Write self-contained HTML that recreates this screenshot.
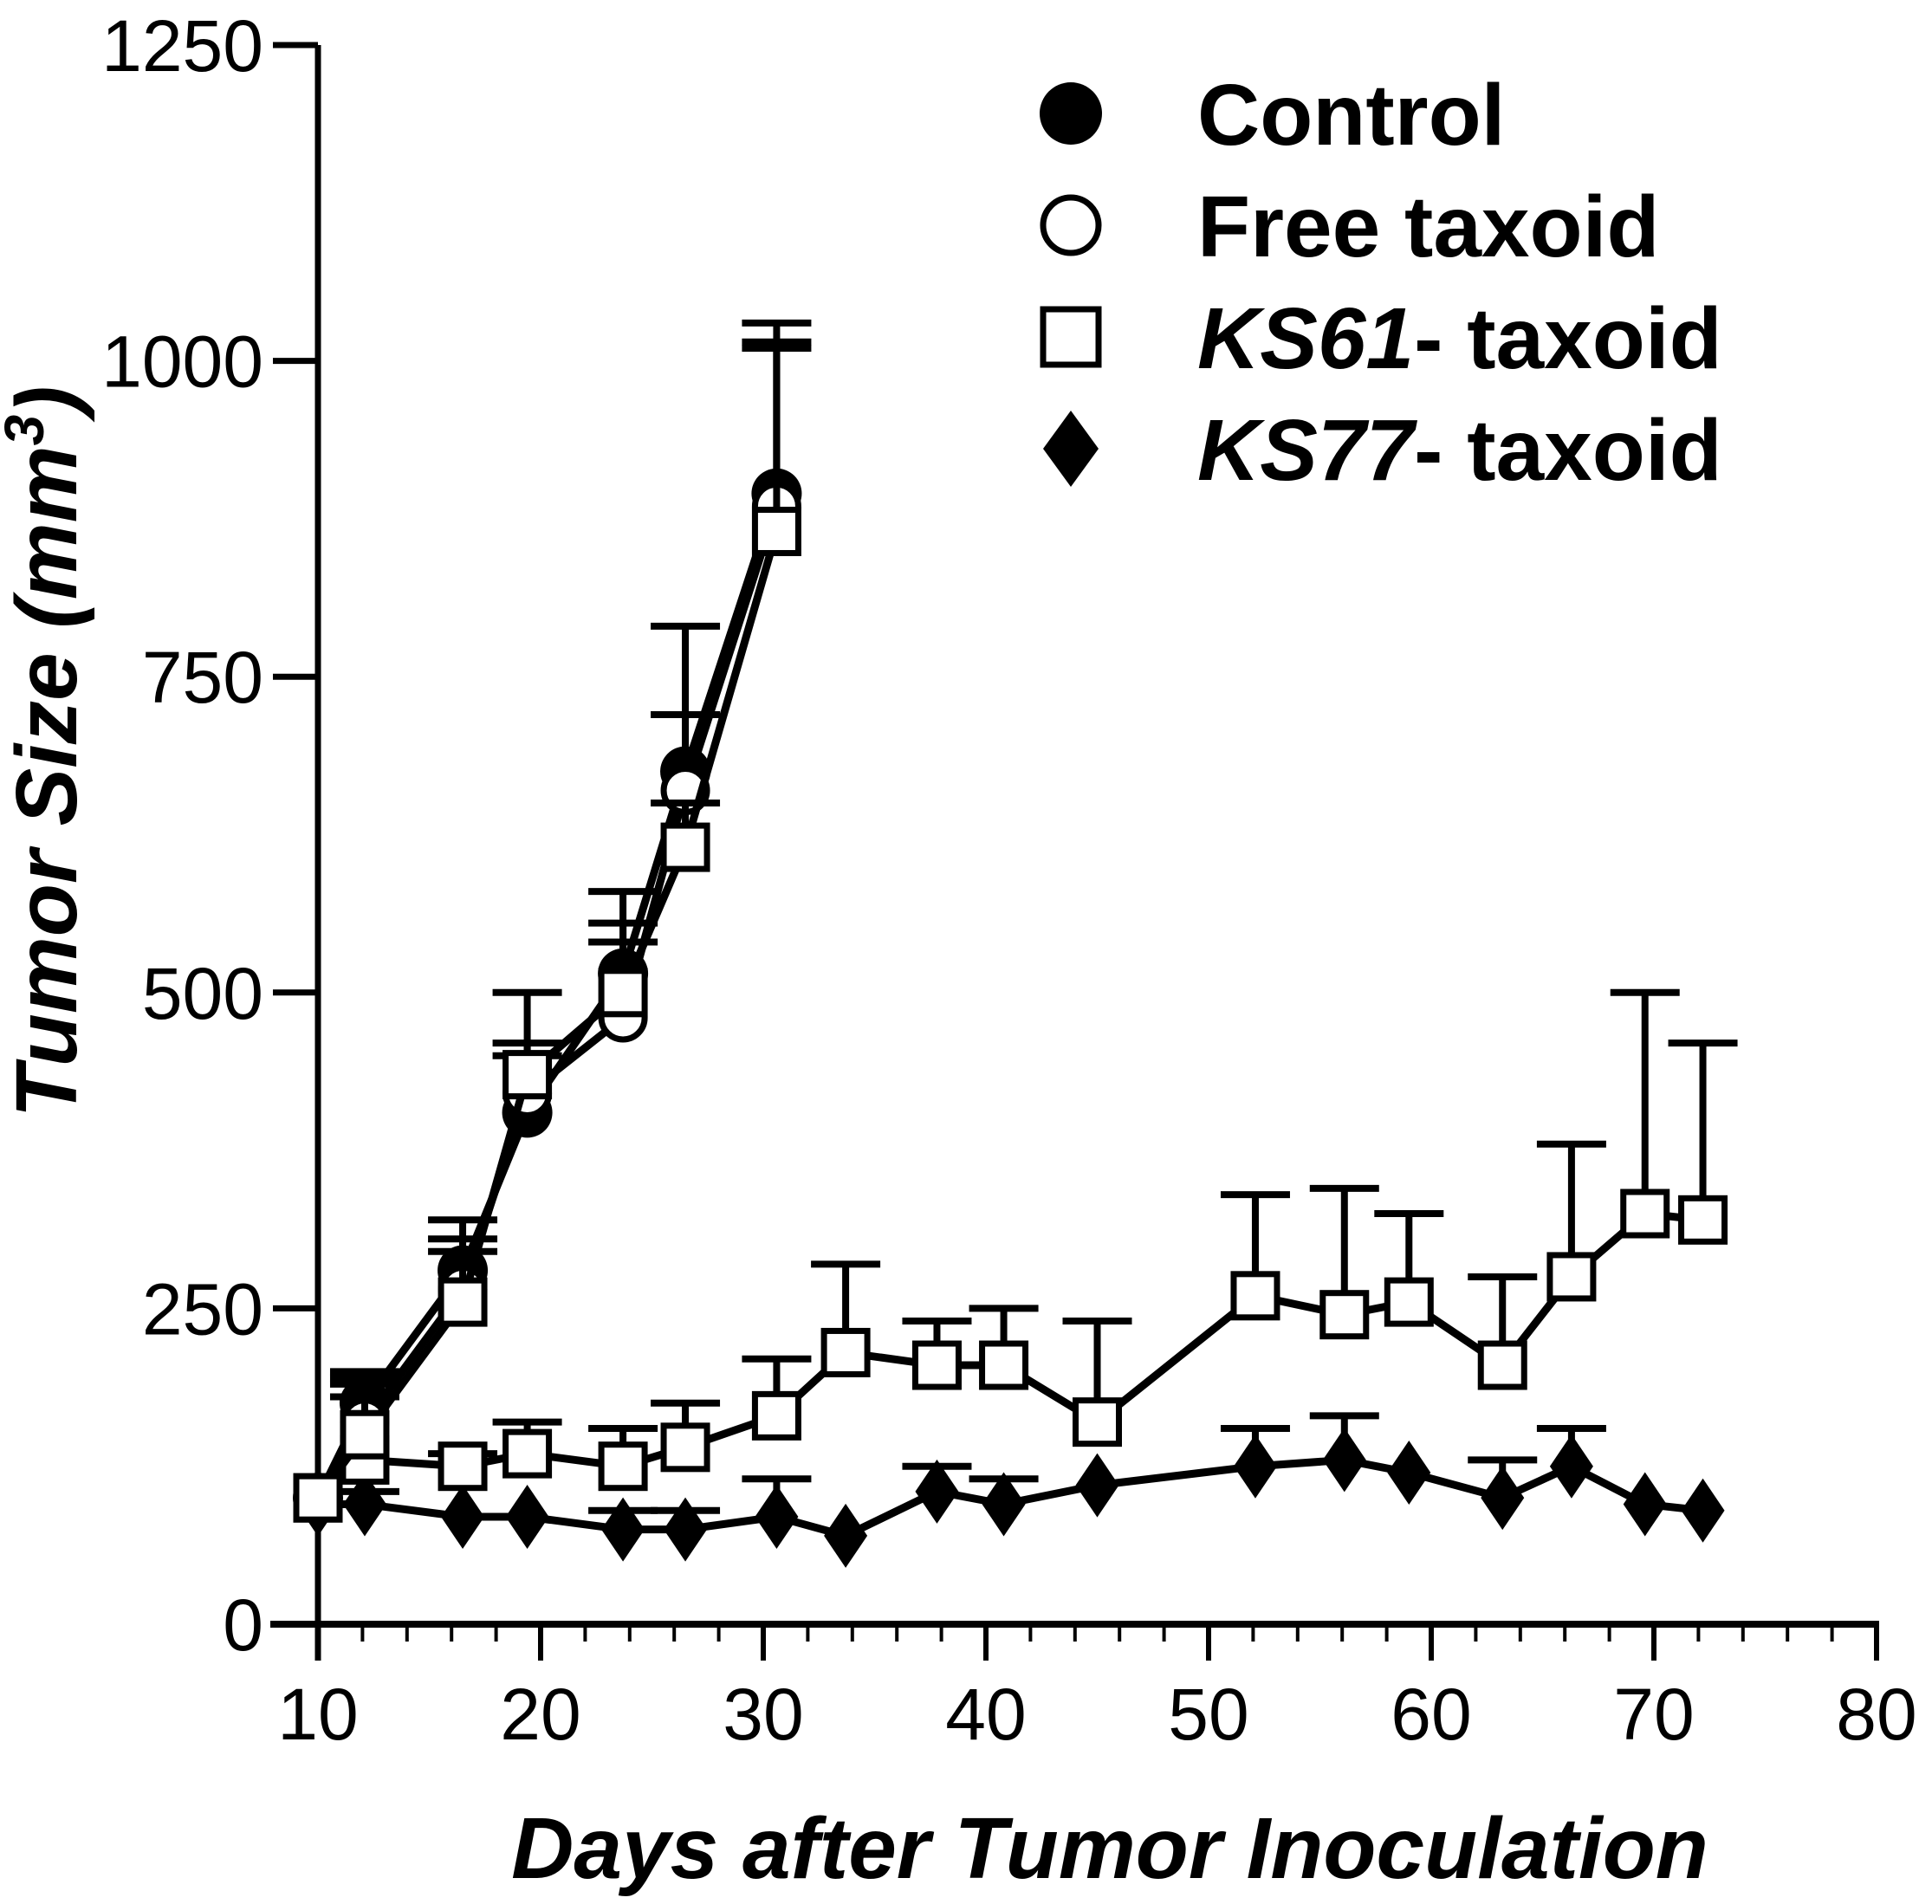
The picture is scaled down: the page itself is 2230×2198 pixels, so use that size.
<!DOCTYPE html>
<html><head><meta charset="utf-8"><style>
html,body{margin:0;padding:0;background:#fff;}
svg{display:block;font-family:"Liberation Sans",Arial,sans-serif;}
</style></head><body>
<svg id="chart" width="2230" height="2198" viewBox="0 0 2230 2198" xmlns="http://www.w3.org/2000/svg">
<g id="axes"></g>
<g id="series"></g>
<g id="legend"></g>
<text x="0" y="0" transform="translate(88,868) rotate(-90)" text-anchor="middle" font-size="100" font-weight="bold" font-style="italic">Tumor Size (mm<tspan font-size="64" dy="-38">3</tspan><tspan dy="38">)</tspan></text>
<text x="1281" y="2168" text-anchor="middle" font-size="100" font-weight="bold" font-style="italic">Days after Tumor Inoculation</text>
</svg>
<script>
const fastDays = [10, 12.1, 16.5, 19.4, 23.7, 26.5, 30.6];
const controlVals = [100, 175, 280, 405, 515, 675, 895];
const controlErr = [100, 200, 320, 500, 580, 790, 1030];
const freeVals = [100, 160, 265, 420, 480, 660, 885];
const freeErr = [100, 190, 305, 460, 555, 720, 1015];
const ks61FastVals = [100, 150, 255, 435, 500, 615, 865];
const ks61FastErr = [100, 180, 295, 450, 540, 650, 1010];
const slowDays = [10, 12.1, 16.5, 19.4, 23.7, 26.5, 30.6, 33.7, 37.8, 40.8, 45, 52.1, 56.1, 59, 63.2, 66.3, 69.6, 72.2];
const ks61Vals = [100, 130, 125, 135, 125, 140, 165, 215, 205, 205, 160, 260, 245, 255, 205, 275, 325, 320];
const ks61Err = [100, 195, 135, 160, 155, 175, 210, 285, 240, 250, 240, 340, 345, 325, 275, 380, 500, 460];
const ks77Vals = [95, 95, 85, 85, 75, 75, 85, 70, 105, 95, 110, 125, 130, 120, 100, 125, 95, 90];
const ks77Err = [95, 105, 85, 85, 90, 90, 115, 70, 125, 115, 110, 155, 165, 120, 130, 155, 95, 90];
const xTicks = [10, 20, 30, 40, 50, 60, 70, 80];
const yTicks = [0, 250, 500, 750, 1000, 1250];

const NS = "http://www.w3.org/2000/svg";
const X = d => 367 + (d - 10) * 25.7;
const Y = v => 1875 - v * (1823 / 1250);

function mk(tag, attrs, parent) {
  const e = document.createElementNS(NS, tag);
  for (const k in attrs) e.setAttribute(k, attrs[k]);
  parent.appendChild(e);
  return e;
}
const axes = document.getElementById('axes');
let e;
e = mk('line', {x1: 367, y1: 52, x2: 367, y2: 1917, stroke: '#000', 'stroke-width': 7}, axes);


e = mk('line', {x1: 312, y1: 1875, x2: 2169, y2: 1875, stroke: '#000', 'stroke-width': 8}, axes);


yTicks.forEach(v => {
  const t = mk('line', {x1: 315, y1: Y(v), x2: 367, y2: Y(v), stroke: '#000', 'stroke-width': 7}, axes);
  
  
  const l = mk('text', {x: 304, y: Y(v) + 30, 'text-anchor': 'end', 'font-size': 84}, axes);
  l.textContent = v;
  
  
});
for (let d = 10; d <= 80; d += 2) {
  const major = d % 10 === 0;
  const t = mk('line', {x1: X(d), y1: 1875, x2: X(d), y2: major ? 1917 : 1895, stroke: '#000', 'stroke-width': major ? 6 : 4}, axes);
  
  
}
xTicks.forEach(d => {
  const l = mk('text', {x: X(d), y: 2008, 'text-anchor': 'middle', 'font-size': 84}, axes);
  l.textContent = d;
  
  
});

function marker(type, cx, cy, g, s) {
  s = s || 29;
  let m;
  if (type === 'fcircle') m = mk('circle', {cx, cy, r: s, fill: '#000'}, g);
  else if (type === 'ocircle') m = mk('circle', {cx, cy, r: s - 4, fill: '#fff', stroke: '#000', 'stroke-width': 7}, g);
  else if (type === 'square') m = mk('rect', {x: cx - s + 4, y: cy - s + 4, width: 2 * s - 8, height: 2 * s - 8, fill: '#fff', stroke: '#000', 'stroke-width': 7}, g);
  else m = mk('polygon', {points: `${cx},${cy - s - 8} ${cx + s - 4},${cy} ${cx},${cy + s + 8} ${cx - s + 4},${cy}`, fill: '#000'}, g);
  return m;
}
const sg = document.getElementById('series');
function drawSeries(name, days, vals, errs, type) {
  const g = mk('g', {}, sg);
  
  
  days.forEach((d, i) => {
    if (errs[i] > vals[i]) {
      const b = mk('path', {d: `M${X(d)},${Y(vals[i])} V${Y(errs[i])} M${X(d) - 40},${Y(errs[i])} H${X(d) + 40}`, stroke: '#000', 'stroke-width': 8, fill: 'none'}, g);
      
      
    }
  });
  const ln = mk('polyline', {points: days.map((d, i) => X(d) + ',' + Y(vals[i])).join(' '), fill: 'none', stroke: '#000', 'stroke-width': 9}, g);
  
  
  days.forEach((d, i) => {
    const m = marker(type, X(d), Y(vals[i]), g);
    
    
  });
}
drawSeries('ks77-taxoid-series', slowDays, ks77Vals, ks77Err, 'diamond');
drawSeries('ks61-taxoid-series', slowDays, ks61Vals, ks61Err, 'square');
drawSeries('control-series', fastDays, controlVals, controlErr, 'fcircle');
drawSeries('free-taxoid-series', fastDays, freeVals, freeErr, 'ocircle');
drawSeries('ks61-fast-series', fastDays, ks61FastVals, ks61FastErr, 'square');

const legendItems = [['Control', 'fcircle'], ['Free taxoid', 'ocircle'], ['KS61', 'square'], ['KS77', 'diamond']];
const lg = document.getElementById('legend');
legendItems.forEach((it, i) => {
  const y = 131 + i * 129;
  const g = mk('g', {}, lg);
  
  
  marker(it[1], 1236, y, g, 36);
  const t = mk('text', {x: 1382, y: y + 36, 'font-size': 100, 'font-weight': 'bold'}, g);
  if (i < 2) t.textContent = it[0];
  else {
    const a = mk('tspan', {'font-style': 'italic'}, t); a.textContent = it[0];
    const b = mk('tspan', {}, t); b.textContent = '- taxoid';
  }
});
</script>
</body></html>
